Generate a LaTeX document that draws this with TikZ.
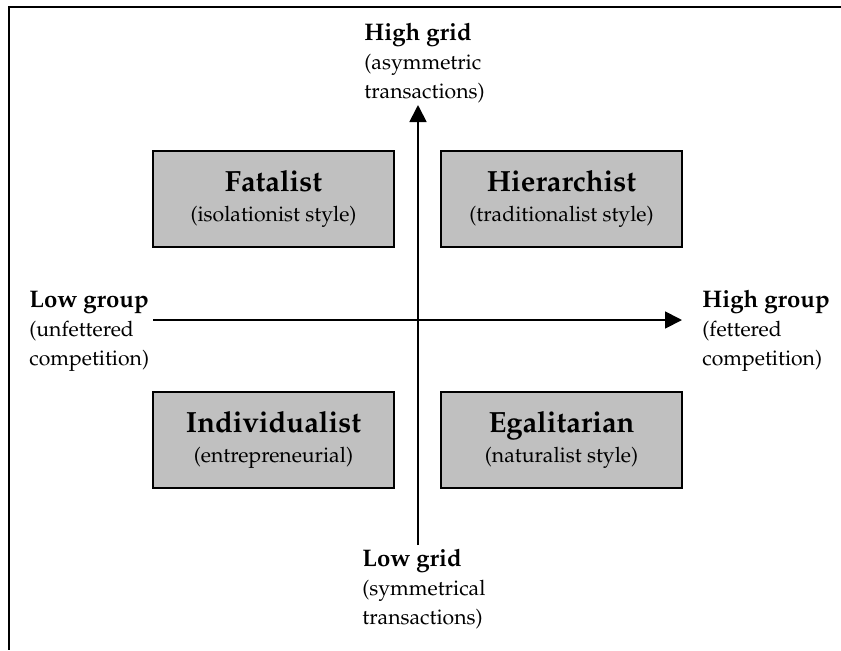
\documentclass[tikz,border=0pt]{standalone}
\usepackage[T1]{fontenc}
\usepackage{mathpazo}
\usetikzlibrary{arrows.meta}
\definecolor{boxgray}{RGB}{192,192,192}
\newcommand{\quadtitle}[2]{{\fontsize{14.6}{15}\selectfont\bfseries #1}\\{(#2)}}
\newcommand{\axtitle}[1]{{\fontsize{12}{14.5}\selectfont\bfseries #1}}
\tikzset{
  quad/.style={draw, line width=1pt, fill=boxgray, minimum width=120.5pt, minimum height=48pt, align=center, inner sep=0pt, font=\fontsize{10.6}{15}\selectfont},
  axlabel/.style={anchor=north west, align=left, inner sep=0pt, font=\fontsize{10.6}{14.5}\selectfont},
  axis/.style={line width=0.9pt, -{Triangle[length=8.5pt,width=8.5pt]}}
}
\begin{document}
\begin{tikzpicture}[x=0.5pt, y=-0.5pt]
\useasboundingbox (0,0) rectangle (841,650);
\draw[line width=1pt] (841,7) -- (9,7) -- (9,650);
\node[quad] (fatal) at (273.5,199){\quadtitle{Fatalist}{isolationist style}};
\node[quad] (hier) at (561.5,199){\quadtitle{Hierarchist}{traditionalist style}};
\node[quad] (indiv) at (273.5,440){\quadtitle{Individualist}{entrepreneurial}};
\node[quad] (egal) at (561.5,440){\quadtitle{Egalitarian}{naturalist style}};
\coordinate (gridlo) at (418,545);
\coordinate (gridhi) at (418,105);
\coordinate (grouplo) at (153,320);
\coordinate (grouphi) at (682,320);
\draw[axis] (gridlo) -- (gridhi);
\draw[axis] (grouplo) -- (grouphi);
\node[axlabel] (hgrid) at (364,23){\axtitle{High grid}\\(asymmetric\\transactions)};
\node[axlabel] (lgrid) at (362,549){\axtitle{Low grid}\\(symmetrical\\transactions)};
\node[axlabel] (lgroup) at (29,291){\axtitle{Low group}\\(unfettered\\competition)};
\node[axlabel] (hgroup) at (702,290){\axtitle{High group}\\(fettered\\competition)};
\end{tikzpicture}
\end{document}
